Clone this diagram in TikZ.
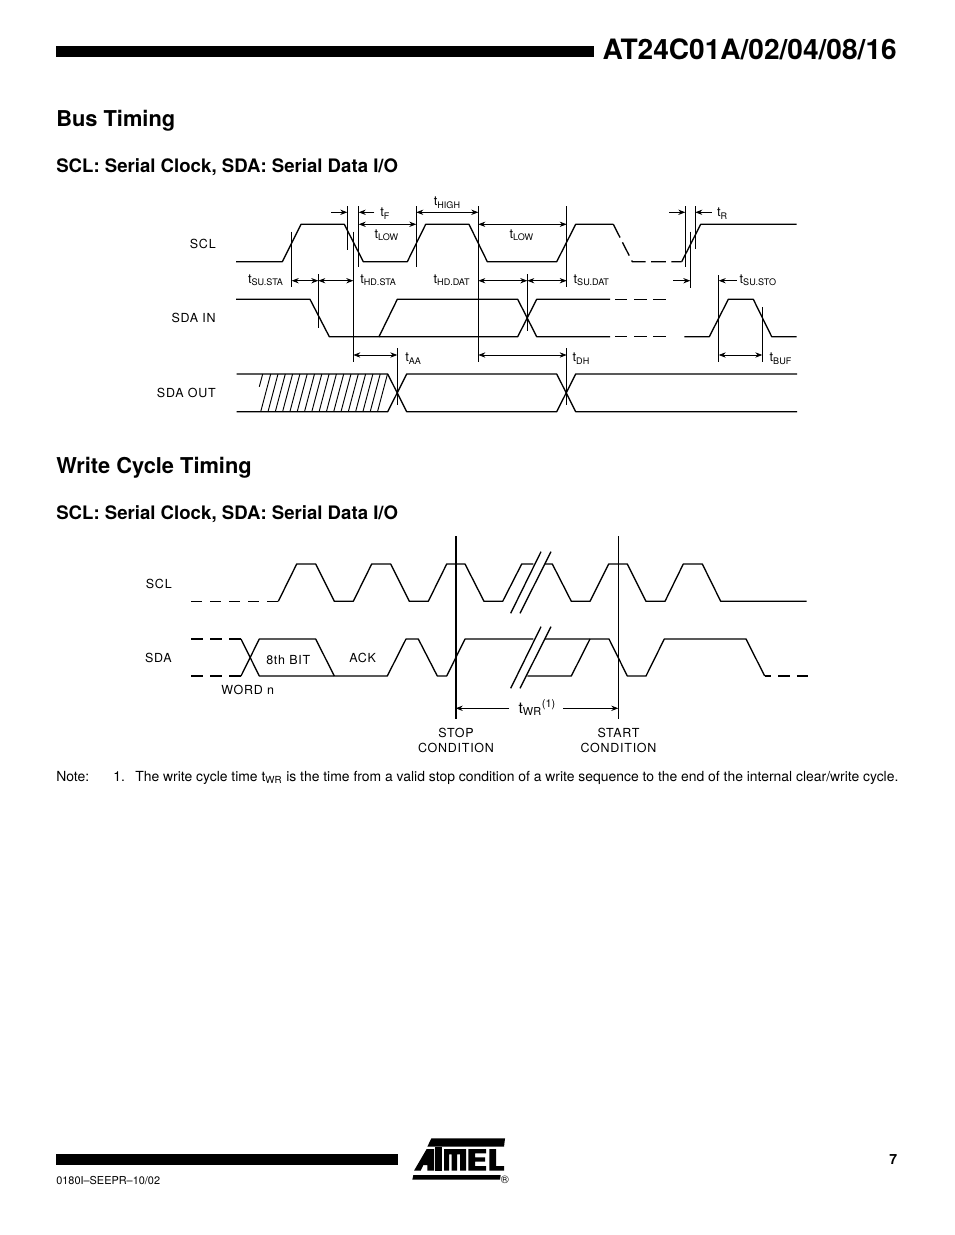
\documentclass[tikz,border=0pt]{standalone}
\usepackage{fontspec}
\usepackage{tikz}
\usetikzlibrary{arrows.meta}
\setmainfont{TeX Gyre Heros}
\newfontfamily\sigfont[LetterSpace=6]{TeX Gyre Heros}
\tikzset{
  wave/.style={line width=0.85pt,line join=round},
  wavedash/.style 2 args={wave,dash pattern=on #1pt off #2pt},
  mark line/.style={line width=0.6pt},
  dim/.style={line width=0.5pt,{Stealth[length=4.5pt,width=3.4pt]}-{Stealth[length=4.5pt,width=3.4pt]}},
  dimr/.style={line width=0.5pt,-{Stealth[length=4.5pt,width=3.4pt]}},
  siglabel/.style={inner sep=0pt,anchor=base east,font=\sigfont\fontsize{8}{9.6}\selectfont},
  wavelabel/.style={inner sep=0pt,anchor=base west,font=\sigfont\fontsize{8}{9.6}\selectfont},
  condlabel/.style={inner sep=0pt,anchor=base,font=\sigfont\fontsize{8}{9.6}\selectfont},
  tlabel/.style={inner sep=0pt,anchor=base west,font=\fontsize{8.3}{10}\selectfont},
  heading/.style={inner sep=0pt,anchor=base west,font=\bfseries\fontsize{14}{16}\selectfont},
  subheading/.style={inner sep=0pt,anchor=base west,font=\bfseries\fontsize{11.93}{14}\selectfont},
  pagetext/.style={inner sep=0pt,anchor=base west,font=\fontsize{8.92}{11}\selectfont},
}
\begin{document}
\begin{tikzpicture}[x=0.6413pt,y=-0.6413pt]
  \useasboundingbox (0,0) rectangle (954,1235);
  % page furniture
  \fill (56,46) rectangle (594,57);
  \fill (56,1154) rectangle (398,1165);
  \node[inner sep=0pt,anchor=base east,font=\bfseries\fontsize{18}{22}\selectfont] (title) at (897,60) {AT24C01A/02/04/08/16};
  \node[heading] (bustitle) at (56,127) {Bus Timing};
  \node[subheading] (bussub) at (56,172.5) {SCL: Serial Clock, SDA: Serial Data I/O};
  \node[heading] (writetitle) at (56,473) {Write Cycle Timing};
  \node[subheading] (writesub) at (56,519.5) {SCL: Serial Clock, SDA: Serial Data I/O};
  \node[pagetext] (notehead) at (56,781) {Note:};
  \node[pagetext] (notenum) at (113,781) {1.};
  \node[pagetext] (notetext) at (135,781) {The write cycle time t\textsubscript{WR} is the time from a valid stop condition of a write sequence to the end of the internal clear/write cycle.};
  \node[inner sep=0pt,anchor=base west,font=\fontsize{7}{8}\selectfont] (docnum) at (56,1184) {0180I--SEEPR--10/02};
  \node[inner sep=0pt,anchor=base east,font=\bfseries\fontsize{9}{11}\selectfont] (pagenum) at (897.5,1164) {7};
  % logo
  \begin{scope}[shift={(410,1135)},x=0.2138pt,y=-0.2138pt]
    \fill (64,10) -- (285,10) -- (282,35) -- (52,35) -- cycle;
    \fill (12,107) -- (50,42) -- (72,42) -- (72,107) -- (52,107) -- (52,90) -- (40,90) -- (32,107) -- cycle;
    \fill (76,35) -- (96,35) -- (96,107) -- (76,107) -- cycle;
    \fill (102,42) -- (168,42) -- (168,107) -- (150,107) -- (150,58) -- (141,58) -- (141,107) -- (125,107) -- (125,58) -- (117,58) -- (117,107) -- (102,107) -- cycle;
    \fill (175,42) -- (228,42) -- (228,55) -- (195,55) -- (195,67) -- (225,67) -- (225,80) -- (195,80) -- (195,93) -- (228,93) -- (228,107) -- (175,107) -- cycle;
    \fill (238,42) -- (258,42) -- (258,93) -- (282,93) -- (282,107) -- (238,107) -- cycle;
    \fill (10,120) -- (272,120) -- (270,134) -- (7,134) -- cycle;
  \end{scope}
  \node[inner sep=0pt,font=\fontsize{7}{8}\selectfont] (logoreg) at (505,1179.5) {\textregistered};

  % bus timing: rows of the dimension arrows
  \coordinate (rowa) at (0,212.3);
  \coordinate (rowb) at (0,224.3);
  \coordinate (rowc) at (0,280.7);
  \coordinate (rowd) at (0,355);
  % bus timing: marker lines
  \coordinate (ma) at (291.7,231.7);
  \coordinate (mb) at (347.3,206);
  \coordinate (mc) at (353.3,231.7);
  \coordinate (md) at (358.7,206);
  \coordinate (me) at (416.3,206);
  \coordinate (mf) at (478.3,206);
  \coordinate (mg) at (566.7,206);
  \coordinate (mh) at (318.3,274.3);
  \coordinate (mi) at (527.3,274.3);
  \coordinate (mj) at (685.3,206);
  \coordinate (mk) at (690.3,231.7);
  \coordinate (ml) at (695.3,206);
  \coordinate (mm) at (718.7,275);
  \coordinate (mn) at (762.3,307.3);
  \coordinate (mo) at (397.3,348.3);
  \coordinate (mp) at (566.7,348.3);
  \draw[mark line] (ma) -- (291.7,286.7);
  \draw[mark line] (mb) -- (347.3,250);
  \draw[mark line] (mc) -- (353.3,361.7);
  \draw[mark line] (md) -- (358.7,267.3);
  \draw[mark line] (me) -- (416.3,267.3);
  \draw[mark line] (mf) -- (478.3,361.7);
  \draw[mark line] (mg) -- (566.7,286.7);
  \draw[mark line] (mh) -- (318.3,328.3);
  \draw[mark line] (mi) -- (527.3,330.7);
  \draw[mark line] (mj) -- (685.3,267.3);
  \draw[mark line] (mk) -- (690.3,288.3);
  \draw[mark line] (ml) -- (695.3,249.3);
  \draw[mark line] (mm) -- (718.7,361.7);
  \draw[mark line] (mn) -- (762.3,361.7);
  \draw[mark line] (mo) -- (397.3,405);
  \draw[mark line] (mp) -- (566.7,405);

  % bus timing: dimension arrows
  \coordinate (fa) at (331,212.3);
  \coordinate (fb) at (374.3,212.3);
  \coordinate (fc) at (669,212.3);
  \coordinate (fd) at (711.7,212.3);
  \coordinate (fe) at (673.3,280.7);
  \coordinate (ff) at (736.7,280.7);
  \draw[dimr] (fa) -- (mb |- rowa);
  \draw[dimr] (fb) -- (md |- rowa);
  \draw[dim] (me |- rowa) -- (mf |- rowa);
  \draw[dim] (md |- rowb) -- (me |- rowb);
  \draw[dim] (mf |- rowb) -- (mg |- rowb);
  \draw[dimr] (fc) -- (mj |- rowa);
  \draw[dimr] (fd) -- (ml |- rowa);
  \draw[dim] (ma |- rowc) -- (mh |- rowc);
  \draw[dim] (mh |- rowc) -- (mc |- rowc);
  \draw[dim] (mf |- rowc) -- (mi |- rowc);
  \draw[dim] (mi |- rowc) -- (mg |- rowc);
  \draw[dimr] (fe) -- (mk |- rowc);
  \draw[dimr] (ff) -- (mm |- rowc);
  \draw[dim] (mc |- rowd) -- (mo |- rowd);
  \draw[dim] (mf |- rowd) -- (mp |- rowd);
  \draw[dim] (mm |- rowd) -- (mn |- rowd);

  % bus timing: signals
  \draw[wave] (236,261.7) -- (282.3,261.7) -- (301,224.3) -- (344.3,224.3) -- (363.3,261.7) -- (407.3,261.7) -- (425.7,224.3) -- (469,224.3) -- (487.3,261.7) -- (556.7,261.7) -- (575.7,224.3) -- (613.3,224.3);
  \draw[wavedash={9.5}{3.5}] (613.3,224.3) -- (632.3,261.7) -- (681.7,261.7);
  \draw[wave] (681.7,261.7) -- (700.7,224.3) -- (796.7,224.3);
  \draw[wave] (236,299.3) -- (310,299.3) -- (329.3,336.7) -- (379,336.7) -- (397.3,299.3) -- (517.7,299.3) -- (536.7,336.7) -- (610,336.7);
  \draw[wave] (379,336.7) -- (517.7,336.7) -- (536.7,299.3) -- (610,299.3);
  \draw[wavedash={8}{4.2}] (615,299.3) -- (665.7,299.3);
  \draw[wavedash={8}{4.2}] (615,336.7) -- (665.7,336.7);
  \draw[wave] (684.3,336.7) -- (709.3,336.7) -- (728.3,299.3) -- (753.3,299.3) -- (771.7,336.7) -- (796.7,336.7);
  \draw[wave] (236.7,374) -- (387.7,374) -- (406.7,411.7) -- (556.7,411.7) -- (575.7,374) -- (797,374);
  \draw[wave] (236.7,411.7) -- (387.7,411.7) -- (406.7,374) -- (556.7,374) -- (575.7,411.7) -- (797,411.7);
  % hatching of the undefined data
  \draw[mark line] (262.7,374) -- (259.3,386.7);
  \foreach \hx in {0,...,16}
    \draw[mark line] ({270.7+7.3*\hx},374) -- ({260.7+7.3*\hx},411.7);

  % bus timing: labels
  \node[siglabel] (sclbus) at (216,248.3) {SCL};
  \node[siglabel] (sdain) at (216,322.7) {SDA IN};
  \node[siglabel] (sdaout) at (216,397.3) {SDA OUT};
  \node[tlabel] (tf) at (380,216.7) {t\textsubscript{F}};
  \node[tlabel] (thigh) at (433.5,205.7) {t\textsubscript{HIGH}};
  \node[tlabel] (tlowa) at (374.3,238.3) {t\textsubscript{LOW}};
  \node[tlabel] (tlowb) at (509.3,238.3) {t\textsubscript{LOW}};
  \node[tlabel] (tr) at (716.7,216.7) {t\textsubscript{R}};
  \node[tlabel] (tsusta) at (247.7,283.3) {t\textsubscript{SU.STA}};
  \node[tlabel] (thdsta) at (360,283.3) {t\textsubscript{HD.STA}};
  \node[tlabel] (thddat) at (433.3,283.3) {t\textsubscript{HD.DAT}};
  \node[tlabel] (tsudat) at (573.3,283.3) {t\textsubscript{SU.DAT}};
  \node[tlabel] (tsusto) at (739.3,283.3) {t\textsubscript{SU.STO}};
  \node[tlabel] (taa) at (405,361.7) {t\textsubscript{AA}};
  \node[tlabel] (tdh) at (572.3,361.7) {t\textsubscript{DH}};
  \node[tlabel] (tbuf) at (769.3,361.7) {t\textsubscript{BUF}};

  % write cycle: signals
  \draw[wavedash={7}{5.25}] (191,601.3) -- (278.3,601.3);
  \draw[wave] (278.3,601.3) -- (296.7,564) -- (315.7,564) -- (334.3,601.3) -- (353.3,601.3) -- (371.7,564) -- (390.7,564) -- (409.3,601.3) -- (428.3,601.3) -- (446.7,564) -- (465,564) -- (484,601.3) -- (502.7,601.3) -- (521.7,564) -- (533.3,564);
  \draw[wave] (545,564) -- (552.3,564) -- (571.3,601.3) -- (590,601.3) -- (608.7,564) -- (627.3,564) -- (646,601.3) -- (665,601.3) -- (683.3,564) -- (702.3,564) -- (720.7,601.3) -- (806.7,601.3);
  \draw[wavedash={7.6}{4.6}] (191,639) -- (241,639);
  \draw[wavedash={7.6}{4.6}] (191,676) -- (241,676);
  \draw[wave] (241,639) -- (259.3,676) -- (334,676) -- (387.3,676) -- (406,639) -- (418.3,639) -- (437.3,676) -- (446.7,676) -- (465,639) -- (533.3,639);
  \draw[wave] (241,676) -- (259.3,639) -- (315.7,639) -- (334.3,676);
  \draw[wave] (545,639) -- (609,639) -- (627.3,676) -- (646,676) -- (664.3,639) -- (746,639) -- (764.7,676);
  \draw[wave] (527.3,676) -- (571.3,676) -- (590,639);
  \draw[wave,dash pattern=on 7.7pt off 4.3pt,dash phase=3.4pt] (764.7,676) -- (808,676);
  % breaks
  \draw[wave] (510.7,613.3) -- (541,551.7);
  \draw[wave] (520,613.3) -- (551,551.7);
  \draw[wave] (510.7,688.3) -- (541,626.7);
  \draw[wave] (520,688.3) -- (551,626.7);
  % stop and start lines
  \coordinate (stoptop) at (455.7,536);
  \coordinate (starttop) at (618.3,536);
  \coordinate (rowe) at (0,708.3);
  \coordinate (fg) at (509.3,708.3);
  \coordinate (fh) at (563.3,708.3);
  \draw[line width=1.3pt] (stoptop) -- (455.7,719.3);
  \draw[mark line] (starttop) -- (618.3,719.3);
  \draw[dimr] (fg) -- (stoptop |- rowe);
  \draw[dimr] (fh) -- (starttop |- rowe);

  % write cycle: labels
  \node[siglabel] (sclwrite) at (172,588.3) {SCL};
  \node[siglabel] (sdawrite) at (172,662.7) {SDA};
  \node[wavelabel] (bitlabel) at (266,664.3) {8th BIT};
  \node[wavelabel] (acklabel) at (349,662.7) {ACK};
  \node[wavelabel] (wordlabel) at (221,694) {WORD n};
  \node[tlabel,font=\fontsize{10}{12}\selectfont] (twr) at (518.3,713) {t\textsubscript{WR}\textsuperscript{(1)}};
  \node[condlabel] (stopa) at (456,737.3) {STOP};
  \node[condlabel] (stopb) at (456,752.3) {CONDITION};
  \node[condlabel] (starta) at (618.5,737.3) {START};
  \node[condlabel] (startb) at (618.5,752.3) {CONDITION};
\end{tikzpicture}
\end{document}
